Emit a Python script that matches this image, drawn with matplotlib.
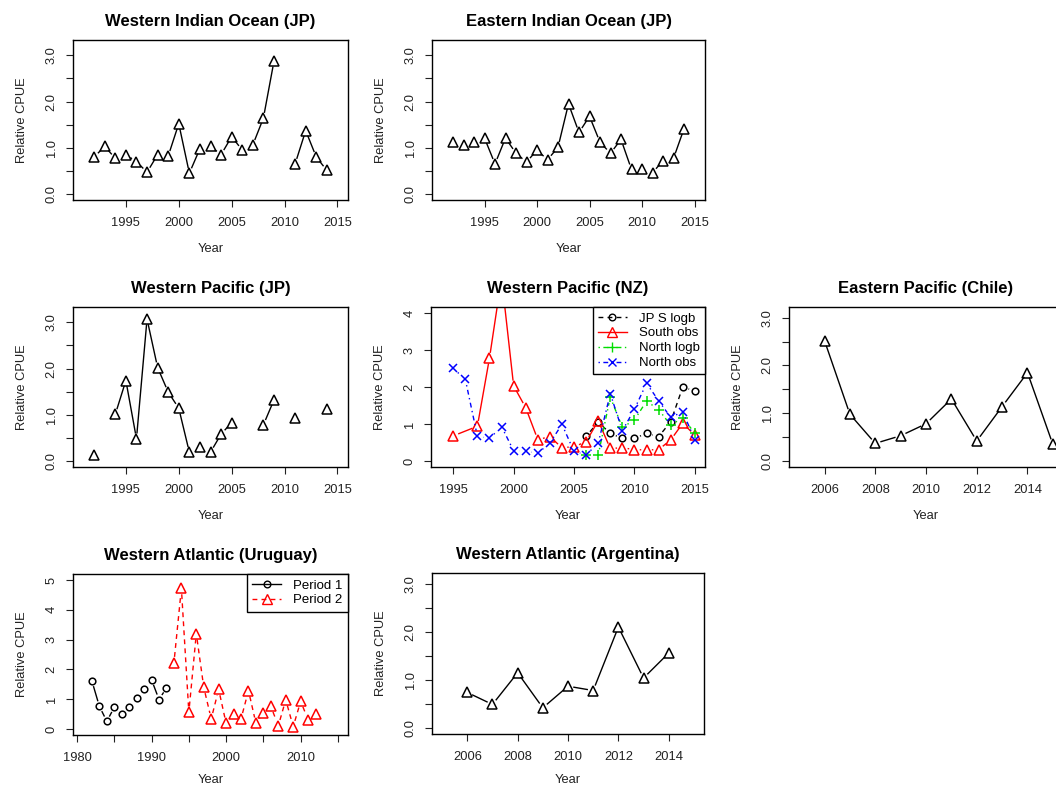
import numpy as np
import matplotlib
matplotlib.use("Agg")
import matplotlib.pyplot as plt
from matplotlib.lines import Line2D

plt.rcParams['font.family'] = ['Liberation Sans', 'DejaVu Sans']

nan = np.nan

# ---- data ----
years_92_14 = list(range(1992, 2015))
wio_cpue = [0.80, 1.03, 0.77, 0.85, 0.70, 0.47, 0.85, 0.82, 1.52, 0.45, 0.98, 1.03,
            0.85, 1.24, 0.95, 1.06, 1.64, 2.87, nan, 0.65, 1.37, 0.80, 0.51]
eio_cpue = [1.12, 1.07, 1.12, 1.21, 0.65, 1.21, 0.88, 0.69, 0.95, 0.74, 1.01, 1.95,
            1.33, 1.68, 1.12, 0.88, 1.18, 0.53, 0.53, 0.46, 0.72, 0.77, 1.41]
wpjp_cpue = [0.14, nan, 1.01, 1.74, 0.48, 3.07, 2.02, 1.49, 1.14, 0.19, 0.30, 0.19,
             0.58, 0.83, nan, nan, 0.78, 1.32, nan, 0.94, nan, nan, 1.12]

# Western Pacific (NZ)
jps_years = list(range(2006, 2016))
jps_logb = [0.67, 1.05, 0.75, 0.61, 0.61, 0.75, 0.66, 1.06, 2.00, 1.89]
south_years = [1995] + list(range(1997, 2016))
south_obs = [0.68, 0.94, 2.78, 4.95, 2.03, 1.44, 0.58, 0.66, 0.36, 0.39, 0.52,
             1.09, 0.34, 0.36, 0.31, 0.30, 0.31, 0.57, 1.02, 0.70]
nlogb_years = list(range(2006, 2016))
north_logb = [0.16, 0.16, 1.73, 0.91, 1.11, 1.62, 1.39, 0.97, 1.17, 0.75]
nobs_years = list(range(1995, 2016))
north_obs = [2.50, 2.21, 0.67, 0.61, 0.93, 0.28, 0.27, 0.21, 0.49, 0.99, 0.26,
             0.17, 0.48, 1.82, 0.82, 1.40, 2.10, 1.63, 1.18, 1.33, 0.57]

chile_years = list(range(2006, 2016))
chile_cpue = [2.52, 0.98, 0.37, 0.53, 0.78, 1.30, 0.42, 1.14, 1.85, 0.35]

uru_p1_years = list(range(1982, 1993))
uru_p1 = [1.61, 0.76, 0.26, 0.73, 0.51, 0.73, 1.04, 1.35, 1.65, 0.99, 1.38]
uru_p2_years = list(range(1993, 2013))
uru_p2 = [2.22, 4.72, 0.56, 3.20, 1.40, 0.34, 1.33, 0.19, 0.51, 0.34, 1.29, 0.19,
          0.54, 0.76, 0.11, 0.98, 0.08, 0.93, 0.31, 0.52]

arg_years = list(range(2006, 2015))
arg_cpue = [0.74, 0.49, 1.15, 0.42, 0.87, 0.78, 2.10, 1.04, 1.56]

W, H = 1056, 789
fig = plt.figure(figsize=(W / 100, H / 100), dpi=100)

FS = 9.3


def make_axes(x0, y0, x1, y1, xpad=10):
    ax = fig.add_axes([x0 / W, 1 - y1 / H, (x1 - x0) / W, (y1 - y0) / H])
    for s in ax.spines.values():
        s.set_linewidth(1.0)
    ax.tick_params(direction='out', length=5, width=0.8, labelsize=FS, colors='#222222')
    ax.tick_params(axis='x', pad=7.5)
    ax.tick_params(axis='y', pad=6)
    ax.set_xlabel('Year', fontsize=FS, color='#222222', labelpad=xpad)
    ax.set_ylabel('Relative CPUE', fontsize=FS, color='#222222', labelpad=13)
    return ax


def set_y(ax, lim, ticks, labels):
    ax.set_ylim(*lim)
    ax.set_yticks(ticks)
    ax.set_yticklabels(labels, rotation=90, va='center')


def set_x(ax, lim, ticks, labels=None):
    ax.set_xlim(*lim)
    ax.set_xticks(ticks)
    ax.set_xticklabels(labels if labels is not None else [str(t) for t in ticks])


def draw_b(ax, x, y, color, marker, ms, dashes=None, gap=6.0):
    # R-style type="b": lines stop short of the points
    x = np.asarray(x, float)
    y = np.asarray(y, float)
    pts = ax.transData.transform(np.column_stack([x, y]))
    inv = ax.transData.inverted()
    for i in range(len(x) - 1):
        if np.isnan(y[i]) or np.isnan(y[i + 1]):
            continue
        p0, p1 = pts[i], pts[i + 1]
        d = p1 - p0
        L = np.hypot(*d)
        if L <= 2 * gap:
            continue
        u = d / L
        seg = inv.transform(np.array([p0 + u * gap, p1 - u * gap]))
        ln, = ax.plot(seg[:, 0], seg[:, 1], color=color, lw=1.0)
        if dashes is not None:
            ln.set_dashes(dashes)
    ax.plot(x, y, ls='none', marker=marker, ms=ms, mfc='none', mec=color, mew=1.1)


def add_legend(ax, handles, labels):
    leg = ax.legend(handles, labels, loc='upper right', borderaxespad=0,
                    fancybox=False, framealpha=1, edgecolor='black', fontsize=9.5,
                    handlelength=2.2, labelspacing=0.2, borderpad=0.4,
                    handletextpad=0.9, numpoints=1)
    leg.get_frame().set_linewidth(1.0)


tri_ms = 6.5
y3_ticks = [0, 0.5, 1.0, 1.5, 2.0, 2.5, 3.0]
y3_labels = ['0.0', '', '1.0', '', '2.0', '', '3.0']

# ---- Western Indian Ocean ----
ax = make_axes(73, 40, 348, 200)
set_x(ax, (1990.0, 2016.0), [1995, 2000, 2005, 2010, 2015])
set_y(ax, (-0.13, 3.33), y3_ticks, y3_labels)
draw_b(ax, years_92_14, wio_cpue, 'black', '^', tri_ms)
ax.set_title('Western Indian Ocean (JP)', fontsize=12, fontweight='bold', pad=10)

# ---- Eastern Indian Ocean ----
ax = make_axes(432, 40, 705, 200)
set_x(ax, (1990.0, 2016.0), [1995, 2000, 2005, 2010, 2015])
set_y(ax, (-0.13, 3.33), y3_ticks, y3_labels)
draw_b(ax, years_92_14, eio_cpue, 'black', '^', tri_ms)
ax.set_title('Eastern Indian Ocean (JP)', fontsize=12, fontweight='bold', pad=10)

# ---- Western Pacific (JP) ----
ax = make_axes(73, 307, 348, 467)
set_x(ax, (1990.0, 2016.0), [1995, 2000, 2005, 2010, 2015])
set_y(ax, (-0.13, 3.33), y3_ticks, y3_labels)
draw_b(ax, years_92_14, wpjp_cpue, 'black', '^', tri_ms)
ax.set_title('Western Pacific (JP)', fontsize=12, fontweight='bold', pad=10)

# ---- Western Pacific (NZ) ----
ax = make_axes(431, 307, 705, 467)
set_x(ax, (1993.16, 2015.84), [1995, 2000, 2005, 2010, 2015])
set_y(ax, (-0.16, 4.16), [0, 1, 2, 3, 4], ['0', '1', '2', '3', '4'])
dash_b = (3.5, 3)
dotdash = (1, 2.5, 3.5, 2.5)
draw_b(ax, jps_years, jps_logb, 'black', 'o', 4.8, dashes=dash_b)
draw_b(ax, south_years, south_obs, '#ff0000', '^', tri_ms)
draw_b(ax, nlogb_years, north_logb, '#00dd00', '+', 7, dashes=dotdash)
draw_b(ax, nobs_years, north_obs, '#0000ff', 'x', 5.5, dashes=dotdash)
handles = [
    Line2D([], [], color='black', dashes=dash_b, marker='o', ms=4.8, mfc='none', lw=1),
    Line2D([], [], color='#ff0000', marker='^', ms=tri_ms, mfc='none', lw=1),
    Line2D([], [], color='#00dd00', dashes=dotdash, marker='+', ms=7, lw=1),
    Line2D([], [], color='#0000ff', dashes=dotdash, marker='x', ms=5.5, lw=1),
]
add_legend(ax, handles, ['JP S logb', 'South obs', 'North logb', 'North obs'])
ax.set_title('Western Pacific (NZ)', fontsize=12, fontweight='bold', pad=10)

# ---- Eastern Pacific (Chile) ----
ax = make_axes(789, 307, 1063, 467)
set_x(ax, (2004.6, 2015.4), [2006, 2008, 2010, 2012, 2014])
set_y(ax, (-0.124, 3.224), y3_ticks, y3_labels)
draw_b(ax, chile_years, chile_cpue, 'black', '^', tri_ms)
ax.set_title('Eastern Pacific (Chile)', fontsize=12, fontweight='bold', pad=10)

# ---- Western Atlantic (Uruguay) ----
ax = make_axes(73, 574, 348, 735, xpad=7)
set_x(ax, (1979.46, 2016.35), list(range(1980, 2016, 5)),
      ['1980', '', '1990', '', '2000', '', '2010', ''])
set_y(ax, (-0.2, 5.2), [0, 1, 2, 3, 4, 5], ['0', '1', '2', '3', '4', '5'])
draw_b(ax, uru_p1_years, uru_p1, 'black', 'o', 4.8)
draw_b(ax, uru_p2_years, uru_p2, '#ff0000', '^', tri_ms, dashes=dash_b)
handles = [
    Line2D([], [], color='black', marker='o', ms=4.8, mfc='none', lw=1),
    Line2D([], [], color='#ff0000', dashes=dash_b, marker='^', ms=tri_ms, mfc='none', lw=1),
]
add_legend(ax, handles, ['Period 1', 'Period 2'])
ax.set_title('Western Atlantic (Uruguay)', fontsize=12, fontweight='bold', pad=10)

# ---- Western Atlantic (Argentina) ----
ax = make_axes(432, 573, 704, 734, xpad=8)
set_x(ax, (2004.6, 2015.4), [2006, 2008, 2010, 2012, 2014])
set_y(ax, (-0.124, 3.224), y3_ticks, y3_labels)
draw_b(ax, arg_years, arg_cpue, 'black', '^', tri_ms)
ax.set_title('Western Atlantic (Argentina)', fontsize=12, fontweight='bold', pad=10)

fig.savefig('out.png', dpi=100)
